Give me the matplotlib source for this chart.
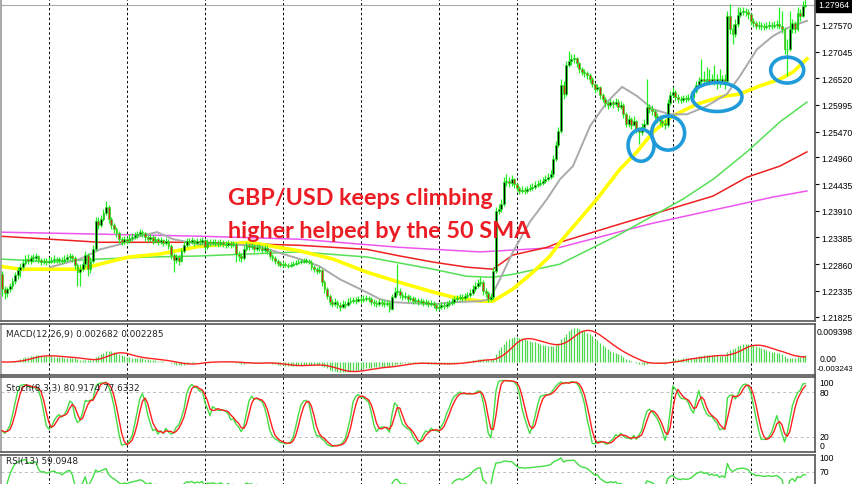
import numpy as np
import pandas as pd
import matplotlib
matplotlib.use('Agg')
import matplotlib.pyplot as plt
from matplotlib.patches import Ellipse

# GBP/USD H4 candles (open = previous close)
first_open = 1.2266
closes = [
    1.2237, 1.2229, 1.2237, 1.2243, 1.2252, 1.2264, 1.2274, 1.2280, 1.2288, 1.2296,
    1.2292, 1.2298, 1.2298, 1.2302, 1.2294, 1.2290, 1.2292, 1.2290, 1.2292, 1.2294,
    1.2296, 1.2294, 1.2294, 1.2292, 1.2296, 1.2300, 1.2302, 1.2298, 1.2284, 1.2270,
    1.2276, 1.2286, 1.2304, 1.2276, 1.2292, 1.2315, 1.2371, 1.2363, 1.2375, 1.2386,
    1.2398, 1.2375, 1.2363, 1.2355, 1.2347, 1.2335, 1.2329, 1.2335, 1.2331, 1.2337,
    1.2339, 1.2343, 1.2345, 1.2349, 1.2347, 1.2339, 1.2335, 1.2339, 1.2331, 1.2335,
    1.2329, 1.2333, 1.2327, 1.2331, 1.2321, 1.2304, 1.2294, 1.2300, 1.2292, 1.2312,
    1.2323, 1.2331, 1.2329, 1.2333, 1.2327, 1.2331, 1.2329, 1.2333, 1.2319, 1.2329,
    1.2327, 1.2329, 1.2327, 1.2325, 1.2329, 1.2325, 1.2323, 1.2327, 1.2323, 1.2325,
    1.2306, 1.2302, 1.2298, 1.2315, 1.2323, 1.2319, 1.2321, 1.2315, 1.2319, 1.2317,
    1.2314, 1.2317, 1.2312, 1.2302, 1.2298, 1.2292, 1.2288, 1.2284, 1.2286, 1.2284,
    1.2282, 1.2284, 1.2286, 1.2288, 1.2290, 1.2290, 1.2292, 1.2292, 1.2290, 1.2280,
    1.2276, 1.2272, 1.2274, 1.2250, 1.2237, 1.2223, 1.2211, 1.2207, 1.2211, 1.2205,
    1.2201, 1.2207, 1.2205, 1.2211, 1.2213, 1.2215, 1.2213, 1.2217, 1.2215, 1.2217,
    1.2219, 1.2217, 1.2211, 1.2209, 1.2207, 1.2211, 1.2209, 1.2207, 1.2209, 1.2197,
    1.2221, 1.2231, 1.2233, 1.2225, 1.2221, 1.2223, 1.2217, 1.2219, 1.2213, 1.2215,
    1.2211, 1.2213, 1.2209, 1.2211, 1.2207, 1.2209, 1.2205, 1.2199, 1.2201, 1.2205,
    1.2203, 1.2207, 1.2209, 1.2211, 1.2217, 1.2219, 1.2221, 1.2219, 1.2223, 1.2225,
    1.2229, 1.2237, 1.2243, 1.2249, 1.2250, 1.2233, 1.2229, 1.2217, 1.2221, 1.2272,
    1.2390, 1.2394, 1.2404, 1.2447, 1.2449, 1.2446, 1.2453, 1.2444, 1.2436, 1.2430,
    1.2432, 1.2430, 1.2434, 1.2436, 1.2438, 1.2442, 1.2444, 1.2446, 1.2449, 1.2453,
    1.2457, 1.2463, 1.2493, 1.2520, 1.2548, 1.2639, 1.2621, 1.2678, 1.2686, 1.2690,
    1.2692, 1.2682, 1.2670, 1.2664, 1.2662, 1.2658, 1.2650, 1.2641, 1.2631, 1.2635,
    1.2619, 1.2611, 1.2603, 1.2599, 1.2605, 1.2601, 1.2605, 1.2595, 1.2599, 1.2581,
    1.2562, 1.2572, 1.2560, 1.2568, 1.2552, 1.2546, 1.2556, 1.2562, 1.2595, 1.2591,
    1.2587, 1.2578, 1.2572, 1.2568, 1.2564, 1.2560, 1.2603, 1.2619, 1.2625, 1.2615,
    1.2611, 1.2609, 1.2613, 1.2611, 1.2613, 1.2617, 1.2627, 1.2639, 1.2646, 1.2650,
    1.2646, 1.2650, 1.2644, 1.2650, 1.2646, 1.2650, 1.2644, 1.2650, 1.2646, 1.2775,
    1.2749, 1.2739, 1.2759, 1.2776, 1.2782, 1.2784, 1.2782, 1.2778, 1.2765, 1.2761,
    1.2755, 1.2757, 1.2755, 1.2753, 1.2755, 1.2757, 1.2755, 1.2757, 1.2759, 1.2755,
    1.2749, 1.2709, 1.2709, 1.2749, 1.2761, 1.2749, 1.2780, 1.2775, 1.2794, 1.27964,
]
highs = [
    1.2272, 1.2243, 1.2241, 1.2249, 1.2258, 1.2270, 1.2280, 1.2288, 1.2296, 1.2304,
    1.2306, 1.2304, 1.2306, 1.2308, 1.2304, 1.2298, 1.2298, 1.2298, 1.2300, 1.2300,
    1.2304, 1.2300, 1.2300, 1.2300, 1.2304, 1.2306, 1.2308, 1.2306, 1.2302, 1.2288,
    1.2286, 1.2292, 1.2312, 1.2308, 1.2300, 1.2323, 1.2379, 1.2379, 1.2382, 1.2394,
    1.2410, 1.2402, 1.2379, 1.2367, 1.2359, 1.2351, 1.2339, 1.2341, 1.2339, 1.2345,
    1.2347, 1.2349, 1.2351, 1.2355, 1.2353, 1.2349, 1.2343, 1.2345, 1.2343, 1.2341,
    1.2339, 1.2339, 1.2335, 1.2337, 1.2335, 1.2325, 1.2308, 1.2306, 1.2304, 1.2317,
    1.2331, 1.2337, 1.2337, 1.2339, 1.2335, 1.2337, 1.2337, 1.2339, 1.2335, 1.2335,
    1.2335, 1.2335, 1.2335, 1.2333, 1.2335, 1.2333, 1.2331, 1.2333, 1.2331, 1.2331,
    1.2329, 1.2312, 1.2308, 1.2323, 1.2329, 1.2327, 1.2327, 1.2325, 1.2325, 1.2325,
    1.2323, 1.2323, 1.2321, 1.2315, 1.2306, 1.2302, 1.2296, 1.2292, 1.2292, 1.2290,
    1.2288, 1.2290, 1.2292, 1.2294, 1.2296, 1.2296, 1.2298, 1.2298, 1.2296, 1.2294,
    1.2284, 1.2280, 1.2282, 1.2276, 1.2254, 1.2241, 1.2227, 1.2217, 1.2219, 1.2215,
    1.2211, 1.2215, 1.2213, 1.2219, 1.2221, 1.2221, 1.2221, 1.2223, 1.2223, 1.2225,
    1.2225, 1.2223, 1.2221, 1.2217, 1.2215, 1.2217, 1.2217, 1.2215, 1.2215, 1.2213,
    1.2227, 1.2241, 1.2286, 1.2239, 1.2231, 1.2231, 1.2227, 1.2225, 1.2223, 1.2221,
    1.2219, 1.2219, 1.2217, 1.2217, 1.2215, 1.2215, 1.2213, 1.2209, 1.2209, 1.2211,
    1.2211, 1.2213, 1.2215, 1.2219, 1.2223, 1.2225, 1.2227, 1.2227, 1.2229, 1.2231,
    1.2237, 1.2245, 1.2250, 1.2256, 1.2260, 1.2254, 1.2239, 1.2233, 1.2229, 1.2280,
    1.2398, 1.2404, 1.2414, 1.2457, 1.2463, 1.2457, 1.2461, 1.2455, 1.2446, 1.2440,
    1.2440, 1.2438, 1.2440, 1.2444, 1.2446, 1.2449, 1.2451, 1.2453, 1.2457, 1.2461,
    1.2465, 1.2471, 1.2501, 1.2528, 1.2556, 1.2650, 1.2646, 1.2686, 1.2706, 1.2700,
    1.2700, 1.2694, 1.2684, 1.2674, 1.2670, 1.2666, 1.2662, 1.2654, 1.2643, 1.2641,
    1.2637, 1.2623, 1.2615, 1.2607, 1.2611, 1.2609, 1.2613, 1.2611, 1.2607, 1.2603,
    1.2585, 1.2579, 1.2576, 1.2578, 1.2570, 1.2556, 1.2564, 1.2572, 1.2650, 1.2601,
    1.2599, 1.2591, 1.2583, 1.2579, 1.2576, 1.2572, 1.2611, 1.2627, 1.2635, 1.2629,
    1.2621, 1.2617, 1.2619, 1.2619, 1.2621, 1.2625, 1.2635, 1.2646, 1.2654, 1.2690,
    1.2666, 1.2674, 1.2670, 1.2660, 1.2678, 1.2660, 1.2670, 1.2658, 1.2660, 1.2784,
    1.2798, 1.2759, 1.2769, 1.2792, 1.2792, 1.2792, 1.2790, 1.2788, 1.2780, 1.2771,
    1.2765, 1.2765, 1.2763, 1.2761, 1.2763, 1.2765, 1.2763, 1.2765, 1.2767, 1.2792,
    1.2784, 1.2753, 1.2729, 1.2784, 1.2769, 1.2765, 1.2792, 1.2788, 1.2804, 1.2808,
]
lows = [
    1.2223, 1.2217, 1.2221, 1.2231, 1.2237, 1.2247, 1.2256, 1.2260, 1.2276, 1.2284,
    1.2286, 1.2286, 1.2290, 1.2292, 1.2288, 1.2284, 1.2286, 1.2284, 1.2286, 1.2288,
    1.2288, 1.2288, 1.2288, 1.2286, 1.2288, 1.2292, 1.2294, 1.2290, 1.2276, 1.2243,
    1.2243, 1.2272, 1.2280, 1.2262, 1.2268, 1.2288, 1.2312, 1.2355, 1.2359, 1.2371,
    1.2382, 1.2367, 1.2355, 1.2347, 1.2339, 1.2327, 1.2323, 1.2325, 1.2325, 1.2327,
    1.2331, 1.2335, 1.2337, 1.2341, 1.2339, 1.2331, 1.2329, 1.2331, 1.2325, 1.2327,
    1.2323, 1.2325, 1.2321, 1.2323, 1.2315, 1.2296, 1.2270, 1.2288, 1.2284, 1.2290,
    1.2308, 1.2319, 1.2323, 1.2325, 1.2321, 1.2323, 1.2323, 1.2325, 1.2312, 1.2315,
    1.2321, 1.2323, 1.2321, 1.2319, 1.2321, 1.2319, 1.2317, 1.2319, 1.2317, 1.2319,
    1.2290, 1.2292, 1.2290, 1.2294, 1.2312, 1.2314, 1.2315, 1.2310, 1.2312, 1.2312,
    1.2308, 1.2310, 1.2306, 1.2296, 1.2292, 1.2286, 1.2282, 1.2280, 1.2280, 1.2280,
    1.2278, 1.2280, 1.2282, 1.2284, 1.2286, 1.2286, 1.2288, 1.2288, 1.2286, 1.2274,
    1.2270, 1.2266, 1.2268, 1.2243, 1.2229, 1.2217, 1.2205, 1.2201, 1.2203, 1.2199,
    1.2193, 1.2199, 1.2199, 1.2203, 1.2207, 1.2209, 1.2207, 1.2211, 1.2209, 1.2211,
    1.2213, 1.2211, 1.2205, 1.2203, 1.2201, 1.2203, 1.2203, 1.2201, 1.2203, 1.2191,
    1.2195, 1.2219, 1.2225, 1.2219, 1.2215, 1.2217, 1.2211, 1.2213, 1.2207, 1.2209,
    1.2205, 1.2207, 1.2203, 1.2205, 1.2201, 1.2203, 1.2199, 1.2193, 1.2195, 1.2197,
    1.2197, 1.2199, 1.2203, 1.2205, 1.2207, 1.2213, 1.2215, 1.2213, 1.2215, 1.2219,
    1.2221, 1.2225, 1.2233, 1.2239, 1.2243, 1.2225, 1.2221, 1.2211, 1.2213, 1.2217,
    1.2268, 1.2384, 1.2388, 1.2400, 1.2440, 1.2438, 1.2440, 1.2436, 1.2430, 1.2424,
    1.2426, 1.2424, 1.2426, 1.2430, 1.2432, 1.2434, 1.2438, 1.2440, 1.2442, 1.2446,
    1.2449, 1.2453, 1.2457, 1.2489, 1.2516, 1.2544, 1.2611, 1.2617, 1.2674, 1.2678,
    1.2682, 1.2674, 1.2662, 1.2658, 1.2654, 1.2650, 1.2643, 1.2635, 1.2623, 1.2627,
    1.2611, 1.2605, 1.2595, 1.2591, 1.2595, 1.2593, 1.2597, 1.2587, 1.2591, 1.2574,
    1.2556, 1.2556, 1.2552, 1.2558, 1.2544, 1.2522, 1.2540, 1.2552, 1.2560, 1.2583,
    1.2579, 1.2572, 1.2564, 1.2560, 1.2556, 1.2552, 1.2556, 1.2599, 1.2615, 1.2607,
    1.2603, 1.2603, 1.2605, 1.2605, 1.2607, 1.2609, 1.2613, 1.2623, 1.2635, 1.2643,
    1.2639, 1.2641, 1.2639, 1.2641, 1.2639, 1.2631, 1.2635, 1.2641, 1.2631, 1.2643,
    1.2739, 1.2719, 1.2733, 1.2753, 1.2773, 1.2776, 1.2775, 1.2769, 1.2757, 1.2753,
    1.2749, 1.2749, 1.2747, 1.2747, 1.2749, 1.2749, 1.2749, 1.2751, 1.2751, 1.2749,
    1.2741, 1.2700, 1.2656, 1.2706, 1.2741, 1.2741, 1.2745, 1.2765, 1.2773, 1.2792,
]

# moving averages, read at knots (bar index, price)
sma20_idx = [18.5, 30, 37.7, 45.4, 53, 59.6, 65.8, 76, 89, 99, 108, 114.6, 122, 130, 137.7,
             145.4, 150.4, 165.8, 173.5, 183.8, 187.7, 191.5, 196.5, 203, 209.6, 214.6,
             219.6, 226.2, 232.7, 238.5, 244.2, 250.4, 256.9, 263.5, 271, 278.8, 283.8,
             290.4, 296.5, 303, 309.6]
sma20_val = [1.2280, 1.2296, 1.2315, 1.2325, 1.2341, 1.2349, 1.2335, 1.2325, 1.2325, 1.2321,
             1.2306, 1.2296, 1.2282, 1.2256, 1.2237, 1.2217, 1.2211, 1.2207, 1.2211, 1.2213,
             1.2217, 1.2256, 1.2310, 1.2369, 1.2414, 1.2453, 1.2479, 1.2558, 1.2605, 1.2635,
             1.2617, 1.2591, 1.2581, 1.2581, 1.2597, 1.2621, 1.2656, 1.2709, 1.2735, 1.2753,
             1.2765]
sma50_idx = [-1, 7, 18.5, 30, 37.7, 45.4, 49, 60.8, 76, 95.4, 104, 114.6, 127.3, 140.4, 153,
             165.8, 173.5, 183.8, 188.8, 196.5, 204.2, 210.8, 214.6, 222.3, 228.8, 237.7,
             244.2, 250.4, 258, 267.3, 276.2, 283.8, 291.5, 299.2, 304.2, 309.6]
sma50_val = [1.2282, 1.2276, 1.2276, 1.2276, 1.2286, 1.2296, 1.2300, 1.2306, 1.2321, 1.2329,
             1.2321, 1.2312, 1.2296, 1.2270, 1.2250, 1.2231, 1.2221, 1.2213, 1.2213, 1.2237,
             1.2270, 1.2302, 1.2329, 1.2375, 1.2414, 1.2473, 1.2507, 1.2546, 1.2578, 1.2601,
             1.2615, 1.2621, 1.2637, 1.2650, 1.2664, 1.2690]
sma100_idx = [-1, 7, 18.5, 37.7, 57, 76, 95.4, 114.6, 140.4, 165.8, 178.8, 188.8, 196.5,
              214.6, 237.7, 261.9, 273.5, 286.5, 299.2, 309.6]
sma100_val = [1.2296, 1.2294, 1.2290, 1.2296, 1.2300, 1.2302, 1.2306, 1.2310, 1.2300, 1.2276,
              1.2262, 1.2260, 1.2266, 1.2286, 1.2345, 1.2414, 1.2453, 1.2507, 1.2566, 1.2605]
sma200_idx = [-1, 18.5, 37.7, 76, 114.6, 140.4, 153, 165.8, 178.8, 188.8, 196.5, 209.6,
              214.6, 237.7, 273.5, 286.5, 299.2, 309.6]
sma200_val = [1.2341, 1.2335, 1.2329, 1.2329, 1.2323, 1.2315, 1.2302, 1.2290, 1.2280, 1.2276,
              1.2304, 1.2319, 1.2329, 1.2365, 1.2420, 1.2457, 1.2479, 1.2507]
sma240_idx = [-1, 37.7, 76, 114.6, 153, 183.8, 214.6, 249, 296.5, 309.6]
sma240_val = [1.2349, 1.2345, 1.2341, 1.2335, 1.2319, 1.2310, 1.2319, 1.2365, 1.2418, 1.2430]

price_ticks = [1.27570, 1.27045, 1.26520, 1.25995, 1.25470, 1.24960, 1.24435,
               1.23910, 1.23385, 1.22860, 1.22335, 1.21825]
last_price = 1.27964
grid_bars = [18, 48, 78, 108, 138, 168, 198, 228, 258, 288]

# blue circles marking the 50 SMA touches: (bar, price, width in bars, height in price)
touches = [(245.8, 1.2520, 10, 0.0063), (256.2, 1.2544, 12.7, 0.0067),
           (275, 1.2615, 19.2, 0.0057), (302, 1.2668, 12.7, 0.0051)]

closes = np.array(closes)
highs = np.array(highs)
lows = np.array(lows)
opens = np.r_[first_open, closes[:-1]]
xs = np.arange(len(closes))

# indicators as MT4 computes them
c = pd.Series(closes)
macd = c.ewm(span=12, adjust=False).mean() - c.ewm(span=26, adjust=False).mean()
macd_sig = macd.rolling(9, min_periods=1).mean()
ll = pd.Series(lows).rolling(8, min_periods=1).min()
hh = pd.Series(highs).rolling(8, min_periods=1).max()
stoch_k = 100 * (c - ll).rolling(3, min_periods=1).sum() / (hh - ll).rolling(3, min_periods=1).sum()
stoch_d = stoch_k.rolling(3, min_periods=1).mean()
delta = c.diff().fillna(0)
gain = delta.clip(lower=0).ewm(alpha=1/13, adjust=False).mean()
loss = (-delta.clip(upper=0)).ewm(alpha=1/13, adjust=False).mean()
rsi = 100 - 100 / (1 + gain / loss.replace(0, np.nan))

W, H = 852, 485
fig = plt.figure(figsize=(W/100, H/100), dpi=100)
fig.patch.set_facecolor('white')
axis_font = dict(family='Liberation Sans', fontsize=6.2, color='black')

def panel(top, bottom):
    return fig.add_axes([1/W, 1 - bottom/H, 814/W, (bottom - top)/H])

ax = panel(0, 322)
ax_macd = panel(325, 376)
ax_st = panel(378, 453)
ax_rsi = panel(456, 514)

for a in (ax, ax_macd, ax_st, ax_rsi):
    a.set_xlim(-0.4, 312.7)
    a.set_xticks([])
    a.set_facecolor('white')
    for g in grid_bars:
        a.axvline(g, color='black', lw=0.7, ls=(0, (2.5, 2.5)), zorder=0)
    a.yaxis.tick_right()
    a.tick_params(axis='y', length=3, width=0.8, pad=1.5)
    for s in a.spines.values():
        s.set_color('#555555')
        s.set_linewidth(1.2)
    a.spines['left'].set_color('#999999')

ax.spines['top'].set_visible(False)
ax.set_ylim(1.2174, 1.2808)
ax.set_yticks(price_ticks)
ax.set_yticklabels(['%.5f' % t for t in price_ticks], **axis_font)

# moving averages
ax.plot(sma240_idx, sma240_val, color='#ee55ee', lw=1.1, zorder=2)
ax.plot(sma200_idx, sma200_val, color='#ee2020', lw=1.1, zorder=2)
ax.plot(sma100_idx, sma100_val, color='#55e055', lw=1.1, zorder=2)
ax.plot(sma50_idx, sma50_val, color='#ffff00', lw=2.6, zorder=2)
ax.plot(sma20_idx, sma20_val, color='#aaaaaa', lw=1.4, zorder=2)

# candles
lime = '#22ee22'
ax.vlines(xs, lows, highs, color=lime, lw=0.9, zorder=3)
up = closes >= opens
body = np.abs(closes - opens)
body = np.where(body < 0.00012, 0.00012, body)
bottoms = np.minimum(opens, closes)
ax.bar(xs[up], body[up], bottom=bottoms[up], width=0.7, color='black',
       edgecolor=lime, lw=0.5, zorder=4)
ax.bar(xs[~up], body[~up], bottom=bottoms[~up], width=0.7, color='#cc2a1a',
       edgecolor=lime, lw=0.5, zorder=4)

ax.axhline(last_price, color='#aaaaaa', lw=0.8, zorder=1)
ax.text(1.004, last_price, '1.27964', transform=ax.get_yaxis_transform(), ha='left',
        va='center', family='Liberation Sans', fontsize=6.2, color='white', zorder=10,
        bbox=dict(boxstyle='square,pad=0.3', fc='black', ec='black'))

for bx, by, bw, bh in touches:
    ax.add_patch(Ellipse((bx, by), bw, bh, fill=False, ec='#1e9bd8', lw=2.6, zorder=6))

note = dict(color='#ec1c24', fontsize=16.8, fontweight='bold', family='Lato',
            ha='left', va='baseline', zorder=7)
ax.text(87, 1.2404, 'GBP/USD keeps climbing', **note)
ax.text(87, 1.2339, 'higher helped by the 50 SMA', **note)

small = dict(family='DejaVu Sans', fontsize=6.4, color='#222222', va='center')

# MACD
ax_macd.set_ylim(-0.003243, 0.009398)
ax_macd.vlines(xs, 0, macd, color='#4fd84f', lw=0.9, zorder=2)
ax_macd.plot(xs, macd_sig, color='#ff2020', lw=1.0, zorder=3)
ax_macd.set_yticks([])
ax_macd.text(1.002, 0.86, '0.009398', transform=ax_macd.transAxes, va='center', **axis_font)
ax_macd.text(1.006, 0.33, '0.00', transform=ax_macd.transAxes, va='center', **axis_font)
ax_macd.text(1.002, 0.12, '-0.003243', transform=ax_macd.transAxes, va='center',
             family='Liberation Sans', fontsize=5.9, color='black')
ax_macd.text(0.006, 0.82, 'MACD(12,26,9) 0.002682 0.002285', transform=ax_macd.transAxes, **small)

# Stochastic
ax_st.set_ylim(0, 100)
for lvl in (20, 80):
    ax_st.axhline(lvl, color='#bbbbbb', lw=0.7, ls=(0, (3, 3)), zorder=0)
ax_st.plot(xs, stoch_k, color='#44dd44', lw=1.0, zorder=2)
ax_st.plot(xs, stoch_d, color='#ff2020', lw=1.0, zorder=3)
ax_st.set_yticks([])
for v, yy in ((100, 0.93), (80, 0.79), (20, 0.21), (0, 0.08)):
    ax_st.text(1.006, yy, str(v), transform=ax_st.transAxes, va='center', **axis_font)
ax_st.text(0.006, 0.86, 'Stoch(8,3,3) 80.9174 77.6332', transform=ax_st.transAxes, **small)

# RSI
ax_rsi.set_ylim(0, 100)
for lvl in (30, 70):
    ax_rsi.axhline(lvl, color='#bbbbbb', lw=0.7, ls=(0, (3, 3)), zorder=0)
ax_rsi.plot(xs, rsi, color='#44dd44', lw=1.0, zorder=2)
ax_rsi.set_yticks([])
ax_rsi.text(1.006, 0.96, '100', transform=ax_rsi.transAxes, va='center', **axis_font)
ax_rsi.text(1.006, 0.71, '70', transform=ax_rsi.transAxes, va='center', **axis_font)
ax_rsi.text(0.006, 0.9, 'RSI(13) 59.0948', transform=ax_rsi.transAxes, **small)

fig.savefig('out.png', dpi=100)
